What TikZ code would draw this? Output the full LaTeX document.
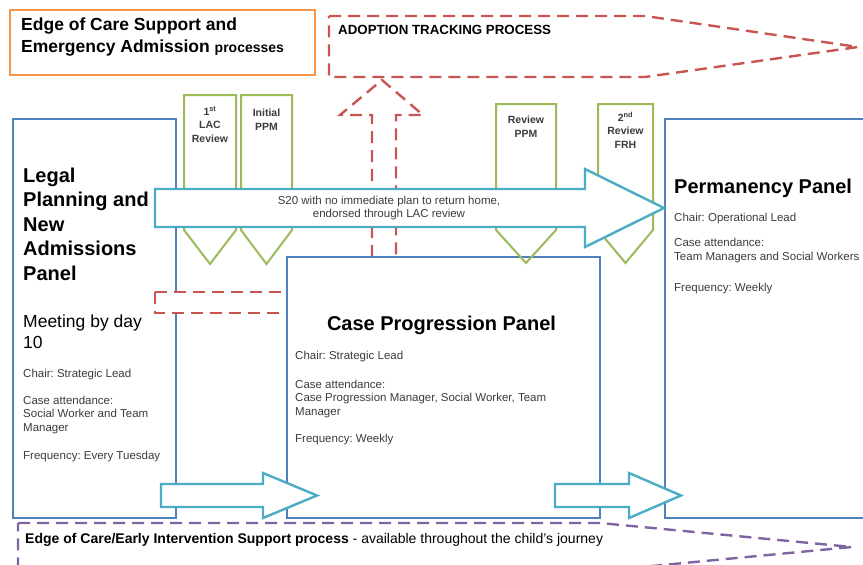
\documentclass[tikz,border=0pt]{standalone}
\usepackage{fontspec}
\setmainfont{Liberation Sans}
\usepackage{tikz}
\usetikzlibrary{positioning}
\usepackage{xcolor}
\frenchspacing
\definecolor{pnblue}{RGB}{79,129,189}
\definecolor{pngreen}{RGB}{155,187,89}
\definecolor{pnaqua}{RGB}{75,172,198}
\definecolor{pnred}{RGB}{200,85,82}
\definecolor{pnorange}{RGB}{247,150,70}
\definecolor{pnpurple}{RGB}{128,100,162}
\definecolor{pntext}{RGB}{60,60,60}
\tikzstyle{panel} = [rectangle, draw=pnblue, fill=white, line width=1.6pt]
\tikzstyle{tabshape} = [draw=pngreen, line width=2pt]
\tikzstyle{blockarrow} = [draw=pnaqua, fill=white, line width=2.4pt]
\tikzstyle{process} = [dash pattern=on 12pt off 7pt, line width=2.4pt]
% multi-line nodes sit on the baseline of their last line
\tikzstyle{paneltitle} = [font=\fontsize{20}{24.5}\selectfont\bfseries, anchor=base west, align=left, inner sep=0pt]
\tikzstyle{info} = [font=\fontsize{11.5}{13.5}\selectfont, text=pntext, anchor=base west, align=left, inner sep=0pt]
\tikzstyle{tablabel} = [font=\fontsize{10.5}{13.5}\selectfont\bfseries, text=pntext, anchor=base, align=center, inner sep=0pt]

\begin{document}
\begin{tikzpicture}[x=1pt, y=-1pt]
    \useasboundingbox (0,0) rectangle (863,565);

    % Edge of care box
    \node[rectangle, draw=pnorange, line width=2pt, minimum width=305pt, minimum height=65pt] (edgecare) at (162.5,42.5) {};
    \node[anchor=base west, align=left, inner sep=0pt, font=\fontsize{17.5}{22}\selectfont\bfseries] (edgecaretext) at (21,52)
        {Edge of Care Support and\\Emergency Admission {\fontsize{14}{22}\selectfont processes}};

    % Adoption tracking
    \draw[process, draw=pnred] (329,16) -- (645,16) -- (858,47) -- (645,77) -- (329,77) -- cycle;
    \node[anchor=base west, inner sep=0pt, font=\fontsize{13.3}{15}\selectfont\bfseries] (adoption) at (338,34) {ADOPTION TRACKING PROCESS};

    % Panels
    \node[panel, minimum width=163pt, minimum height=399pt] (legal) at (94.5,318.5) {};
    \node[panel, minimum width=215pt, minimum height=399pt] (perm) at (772.5,318.5) {};

    % Dashed link back to legal planning
    \draw[process, draw=pnred, fill=white] (155,292) rectangle (292,313);

    % Adoption tracking arrow
    \draw[process, draw=pnred] (372,257) -- (372,115) -- (340,115) -- (382,80) -- (423,115) -- (396,115) -- (396,257);

    \node[panel, minimum width=313pt, minimum height=261pt] (case) at (443.5,387.5) {};

    % Review tabs
    \draw[tabshape] (184,95) -- (236,95) -- (236,230) -- (210,264) -- (184,230) -- cycle;
    \draw[tabshape] (241,95) -- (292,95) -- (292,230) -- (266.5,264) -- (241,230) -- cycle;
    \draw[tabshape] (496,104) -- (556,104) -- (556,230) -- (526,263) -- (496,230) -- cycle;
    \draw[tabshape] (598,104) -- (653,104) -- (653,230) -- (625.5,263) -- (598,230) -- cycle;
    \node[tablabel] (lac) at (210,142) {1\textsuperscript{st}\\LAC\\Review};
    \node[tablabel] (ppm) at (266.5,130) {Initial\\PPM};
    \node[tablabel] (rppm) at (526,137) {Review\\PPM};
    \node[tablabel] (frh) at (625.5,148) {2\textsuperscript{nd}\\Review\\FRH};

    % S20 arrow
    \draw[blockarrow] (155,189) -- (585,189) -- (585,169) -- (664,208) -- (585,247) -- (585,227) -- (155,227) -- cycle;
    \node[info, anchor=center, align=center] (s20) at (389,208)
        {S20 with no immediate plan to return home,\\endorsed through LAC review};

    % Small arrows
    \draw[blockarrow] (161,484) -- (263,484) -- (263,473) -- (317,495.5) -- (263,518) -- (263,507) -- (161,507) -- cycle;
    \draw[blockarrow] (555,484) -- (629,484) -- (629,473) -- (681,495.5) -- (629,518) -- (629,507) -- (555,507) -- cycle;

    % Early intervention
    \draw[process, draw=pnpurple] (18,523) -- (600,523) -- (852,547) -- (600,571) -- (18,571) -- cycle;
    \node[anchor=base west, inner sep=0pt, font=\fontsize{14}{15}\selectfont] (early) at (25,543)
        {\textbf{Edge of Care/Early Intervention Support process} - available throughout the child's journey};

    % Legal planning text
    \node[paneltitle] (legaltitle) at (23,280) {Legal\\Planning and\\New\\Admissions\\Panel};
    \node[anchor=base west, align=left, inner sep=0pt, font=\fontsize{17.5}{21}\selectfont] (meeting) at (23,348) {Meeting by day\\10};
    \node[info] (legalchair) at (23,377) {Chair: Strategic Lead};
    \node[info] (legalatt) at (23,431) {Case attendance:\\Social Worker and Team\\Manager};
    \node[info] (legalfreq) at (23,459) {Frequency: Every Tuesday};

    % Case progression text
    \node[paneltitle, anchor=base] (casetitle) at (441.5,330) {Case Progression Panel};
    \node[info] (casechair) at (295,359) {Chair: Strategic Lead};
    \node[info] (caseatt) at (295,415) {Case attendance:\\Case Progression Manager, Social Worker, Team\\Manager};
    \node[info] (casefreq) at (295,442) {Frequency: Weekly};

    % Permanency text
    \node[paneltitle] (permtitle) at (674,193) {Permanency Panel};
    \node[info] (permchair) at (674,221) {Chair: Operational Lead};
    \node[info] (permatt) at (674,260) {Case attendance:\\Team Managers and Social Workers};
    \node[info] (permfreq) at (674,291) {Frequency: Weekly};
\end{tikzpicture}
\end{document}
